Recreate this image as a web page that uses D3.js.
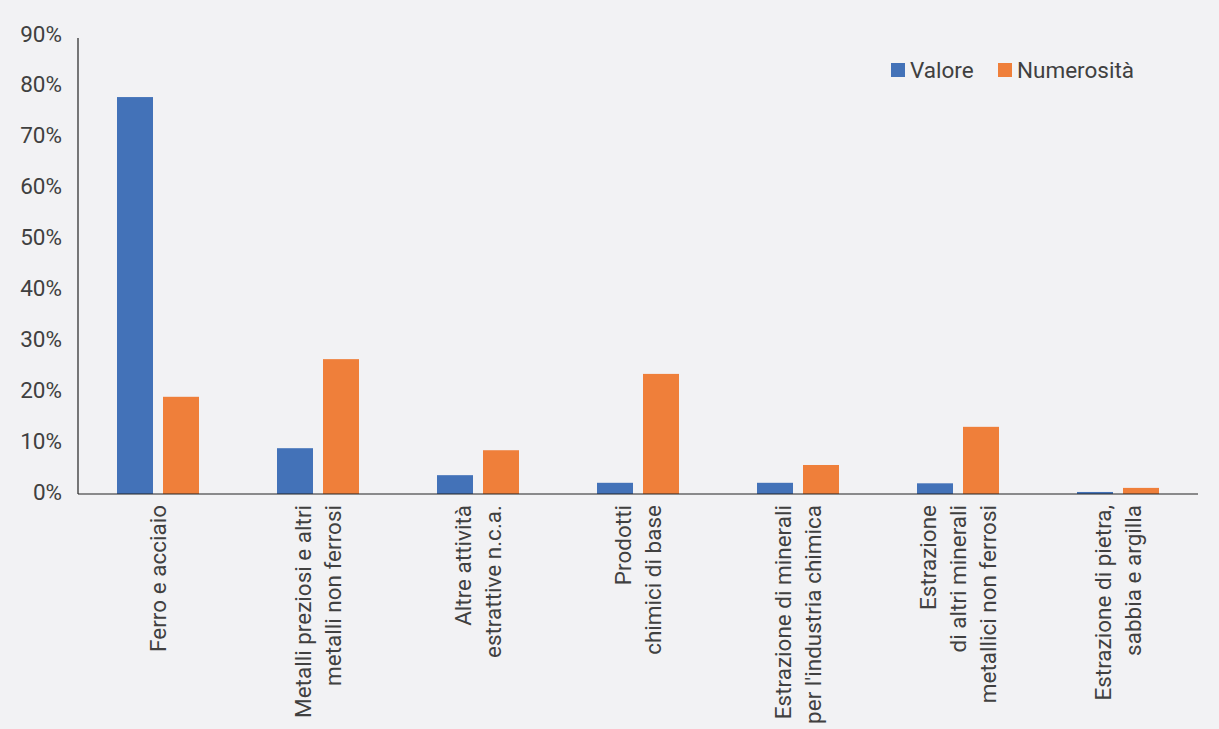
<!DOCTYPE html>
<html><head><meta charset="utf-8">
<script src="https://cdn.jsdelivr.net/npm/d3@7"></script>
<style>
html,body{margin:0;padding:0;background:#f2f2f4;}
svg{display:block;font-family:Roboto,"Liberation Sans",sans-serif;}
</style></head>
<body><svg id="c" width="1219" height="729"></svg>
<script>
const categories = [
  ["Ferro e acciaio"],
  ["Metalli preziosi e altri", "metalli non ferrosi"],
  ["Altre attività", "estrattive n.c.a."],
  ["Prodotti", "chimici di base"],
  ["Estrazione di minerali", "per l'industria chimica"],
  ["Estrazione", "di altri minerali", "metallici non ferrosi"],
  ["Estrazione di pietra,", "sabbia e argilla"]
];
const valore      = [78.0, 9.0, 3.7, 2.2, 2.2, 2.1, 0.4];
const numerosita  = [19.1, 26.5, 8.6, 23.6, 5.7, 13.2, 1.2];
const seriesNames = ["Valore", "Numerosità"];
const yTicks = [0, 10, 20, 30, 40, 50, 60, 70, 80, 90];

const colors = ["#4372b8", "#ef7f3a"];
const textColor = "#404040";
const fs = 22.5;

const svg = d3.select("#c");
const mLeft = 78, mRight = 1198, mTop = 36, mBottom = 494;

const x = d3.scaleBand().domain(d3.range(categories.length)).range([mLeft, mRight]);
const y = d3.scaleLinear().domain([0, 90]).range([mBottom, mTop]);
const barW = 36, gap = 10;

// y tick labels
svg.append("g").selectAll("text").data(yTicks).join("text")
  .attr("x", 62).attr("y", d => y(d) - 2.5).attr("dy", "0.36em")
  .attr("text-anchor", "end").attr("font-size", fs).attr("fill", textColor)
  .text(d => d + "%");

// bars
const data = categories.map((c, i) => ({i, vals: [valore[i], numerosita[i]]}));
const g = svg.append("g");
data.forEach(d => {
  const cx = x(d.i) + x.bandwidth() / 2;
  d.vals.forEach((v, k) => {
    const x0 = k === 0 ? cx - gap / 2 - barW : cx + gap / 2;
    g.append("rect").attr("x", x0).attr("width", barW)
      .attr("y", y(v)).attr("height", y(0) - y(v)).attr("fill", colors[k]);
  });
});

// axes lines
svg.append("line").attr("x1", mLeft).attr("x2", mLeft).attr("y1", mTop + 2).attr("y2", mBottom)
  .attr("stroke", "#222").attr("stroke-width", 1.2);
svg.append("line").attr("x1", mLeft).attr("x2", mRight).attr("y1", mBottom).attr("y2", mBottom)
  .attr("stroke", "#222").attr("stroke-width", 1.2);

// x labels
const lh = 30;
categories.forEach((lines, i) => {
  const cx = x(i) + x.bandwidth() / 2;
  const n = lines.length;
  lines.forEach((t, j) => {
    const off = (j - (n - 1) / 2) * lh;
    svg.append("text")
      .attr("transform", `translate(${cx + off + 7.5},${mBottom + 11}) rotate(-90)`)
      .attr("text-anchor", "end").attr("font-size", fs).attr("fill", textColor)
      .text(t);
  });
});

// legend
const legX = [891, 998];
seriesNames.forEach((s, k) => {
  svg.append("rect").attr("x", legX[k]).attr("y", 63).attr("width", 14).attr("height", 14).attr("fill", colors[k]);
  svg.append("text").attr("x", legX[k] + 19).attr("y", 70).attr("dy", "0.36em")
    .attr("font-size", fs).attr("fill", textColor).text(s);
});
</script></body></html>
